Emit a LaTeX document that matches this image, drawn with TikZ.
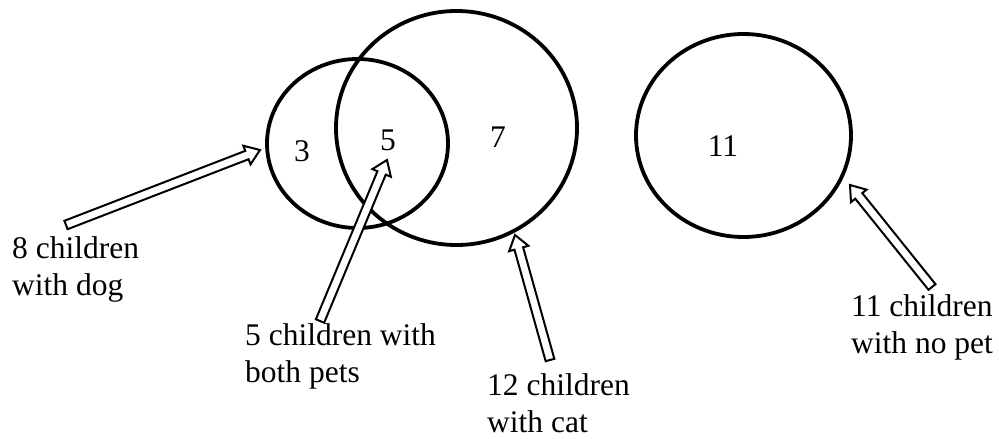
\documentclass[tikz,border=0pt]{standalone}
\usepackage{fontspec}
\setmainfont{Liberation Serif}
\usetikzlibrary{calc,shapes.geometric}

\tikzset{
  setring/.style={draw, ellipse, line width=3.8pt, inner sep=0pt},
  count/.style={anchor=base, inner sep=0pt, font=\fontsize{31.5}{37}\selectfont},
  caption/.style={anchor=base west, inner sep=0pt, align=left,
                  font=\fontsize{31.5}{37}\selectfont},
  arrowline/.style={draw, fill=white, line width=2pt, line join=miter},
}

% hollow block arrow from #1 (tail) to #2 (tip)
\newcommand\hollowarrow[2]{%
  \coordinate (hb) at ($(#2)!14pt!(#1)$);
  \path[arrowline]
    ($(#1)!4.5pt!90:(#2)$) -- ($(hb)!4.5pt!90:(#2)$) -- ($(hb)!10pt!90:(#2)$)
    -- (#2)
    -- ($(hb)!10pt!-90:(#2)$) -- ($(hb)!4.5pt!-90:(#2)$) -- ($(#1)!4.5pt!-90:(#2)$)
    -- cycle;
}

\begin{document}
\begin{tikzpicture}[x=1pt, y=-1pt]
  \useasboundingbox (0,0) rectangle (999,439);

  % sets
  \node[setring, minimum width=181pt, minimum height=169pt] (dog) at (357.5,143.5) {};
  \node[setring, minimum width=241pt, minimum height=234pt] (cat) at (456.5,128) {};
  \node[setring, minimum width=215pt, minimum height=203pt] (none) at (743.5,135.5) {};

  % counts in each region
  \node[count] (n3) at (302,161) {3};
  \node[count] (n5) at (388,150.5) {5};
  \node[count] (n7) at (498,147) {7};
  \node[count] (n11) at (723,156.5) {11};

  % captions (anchored on the baseline of their last line)
  \node[caption] (ldog) at (12,295) {8 children\\with dog};
  \node[caption] (lboth) at (245,382) {5 children with\\both pets};
  \node[caption] (lcat) at (487,432) {12 children\\with cat};
  \node[caption] (lnone) at (851,353) {11 children\\with no pet};

  % arrow end points
  \coordinate (tdog) at (66,225);   \coordinate (pdog) at (260,150);
  \coordinate (tboth) at (320,321); \coordinate (pboth) at (387,160);
  \coordinate (tcat) at (550,360);  \coordinate (pcat) at (515,235);
  \coordinate (tnone) at (932,287); \coordinate (pnone) at (850,185);

  \hollowarrow{tdog}{pdog}
  \hollowarrow{tboth}{pboth}
  \hollowarrow{tcat}{pcat}
  \hollowarrow{tnone}{pnone}
\end{tikzpicture}
\end{document}
